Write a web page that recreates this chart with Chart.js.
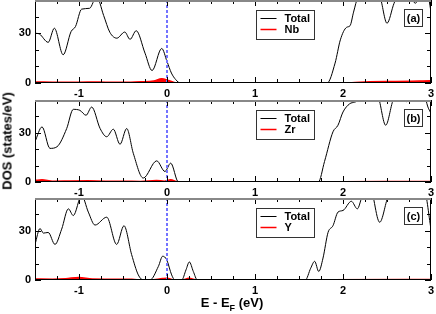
<!DOCTYPE html>
<html lang="en">

<head>
    <meta charset="UTF-8" />
    <title>DOS panels</title>
    <style>
        * {
            padding: 0;
            margin: 0;
            box-sizing: border-box;
        }

        body {
            width: 436px;
            height: 314px;
            background: #ffffff;
            font-family: "Liberation Sans", Arial, sans-serif;
        }

        .wrapper {
            position: relative;
            width: 436px;
            height: 314px;
        }

        canvas {
            position: absolute;
            left: 0;
        }

        #y-title {
            position: absolute;
            left: 7px;
            top: 141px;
            transform: translate(-50%, -50%) rotate(-90deg);
            white-space: nowrap;
            font-weight: bold;
            font-size: 13px;
            color: #000;
        }

        #x-title {
            position: absolute;
            left: 232px;
            top: 304px;
            transform: translate(-50%, -50%);
            white-space: nowrap;
            font-weight: bold;
            font-size: 13px;
            color: #000;
        }

        #x-title sub {
            font-size: 9px;
        }
    </style>
</head>

<body>
    <div class="wrapper">
        <canvas id="panel-a" width="436" height="100" style="top:0px"></canvas>
        <canvas id="panel-b" width="436" height="99" style="top:100px"></canvas>
        <canvas id="panel-c" width="436" height="99" style="top:198px"></canvas>
        <div id="y-title">DOS (states/eV)</div>
        <div id="x-title">E - E<sub>F</sub> (eV)</div>
    </div>

    <script src="https://cdn.jsdelivr.net/npm/chart.js@4"></script>
    <script>
        const xTicks = [-1, 0, 1, 2, 3];
        const yTicks = [0, 30];

        // panel (a) Nb
        const energyA = [-1.5, -1.45, -1.35, -1.28, -1.18, -1.09, -1.04, -0.97, -0.88, -0.80, -0.72, -0.65, -0.57, -0.48, -0.42, -0.35, -0.25, -0.17, -0.06, 0.0, 0.05, 0.1, 0.15, 1.82, 1.91, 1.97, 2.04, 2.08, 2.12, 2.17, 2.28, 2.42, 2.50, 2.58, 2.66, 2.76, 2.82, 2.88, 2.95, 3.0];
        const totalA = [30, 29.5, 24.5, 33, 17, 31, 34, 44.5, 45, 52, 40.7, 30.6, 27, 30.7, 26.3, 31.5, 18, 7.5, 20.8, 13, 6, 2, 0, 0, 12, 26, 33.5, 34.5, 42.7, 52, 58, 52, 36, 48, 56, 55, 48, 53, 56, 43];
        const pdosEnergyA = [-1.5, -1.3, -1.1, -0.9, -0.7, -0.5, -0.3, -0.15, -0.06, 0.02, 0.1, 0.15, 1.8, 2.1, 2.3, 2.6, 3.0];
        const pdosA = [0.6, 0.5, 0.4, 0.6, 0.5, 0.4, 0.7, 1.2, 2.6, 1.5, 0.1, 0, 0, 0.2, 0.8, 0.9, 1.3];

        // panel (b) Zr
        const energyB = [-1.5, -1.42, -1.33, -1.25, -1.14, -1.065, -0.99, -0.92, -0.856, -0.76, -0.685, -0.61, -0.534, -0.458, -0.383, -0.27, -0.117, -0.023, 0.042, 0.13, 1.72, 1.79, 1.886, 1.943, 2.0, 2.076, 2.133, 2.2, 2.3, 2.4, 2.485, 2.57, 2.65, 2.72, 2.8, 2.9, 2.97, 3.0];
        const totalB = [24.6, 33.6, 20.5, 21.5, 32.6, 44.3, 43.7, 40.7, 45.7, 32.6, 27.6, 32.2, 23, 32.6, 17.5, 2.4, 12.9, 6.4, 11.5, 0, 0, 12.5, 30.6, 34.6, 42.7, 47.7, 48.7, 50.3, 56, 52, 34.6, 50, 55, 49, 55, 56, 45, 42];
        const pdosEnergyB = [-1.5, -1.42, -1.3, -1.1, -0.9, -0.7, -0.5, -0.3, -0.12, -0.03, 0.04, 0.13, 1.72, 2.0, 2.5, 3.0];
        const pdosB = [1.0, 1.3, 0.5, 0.6, 0.7, 0.5, 0.5, 0.3, 0.9, 0.5, 1.3, 0, 0, 0.2, 0.3, 0.3];

        // panel (c) Y
        const energyC = [-1.5, -1.443, -1.405, -1.35, -1.273, -1.197, -1.121, -1.065, -0.97, -0.894, -0.818, -0.685, -0.572, -0.489, -0.402, -0.326, -0.269, -0.193, -0.098, -0.049, -0.004, 0.053, 0.09, 0.167, 0.216, 0.254, 0.299, 0.345, 1.572, 1.633, 1.678, 1.724, 1.773, 1.83, 1.886, 1.943, 2.0, 2.095, 2.163, 2.216, 2.3, 2.417, 2.511, 2.6, 2.7, 2.8, 2.92, 3.0];
        const totalC = [21.7, 31.4, 28.6, 29, 21.7, 31, 43.4, 39.3, 51.5, 41.4, 33.5, 38.3, 21.7, 33.1, 15.5, 3.1, 0, 0, 8.3, 14.5, 12.4, 3.1, 0, 0, 6.2, 11, 5.2, 0, 0, 7.2, 11.4, 5.2, 13.4, 29, 33.1, 41.4, 42.4, 48, 43.4, 50.7, 58, 35.2, 50.7, 58, 50, 58, 56, 31];
        const pdosEnergyC = [-1.5, -1.3, -1.15, -1.0, -0.85, -0.6, -0.4, -0.27, -0.19, -0.05, 0.0, 0.09, 0.17, 0.25, 0.34, 1.6, 1.85, 3.0];
        const pdosC = [0.6, 0.5, 0.8, 1.6, 0.6, 0.5, 0.4, 0, 0, 0.9, 1.1, 0, 0, 1.0, 0, 0, 0.2, 0.3];

        const labelFont = 'bold 11px "Liberation Sans", Arial, sans-serif';

        Chart.defaults.color = "#000000";
        Chart.defaults.font.family = '"Liberation Sans", Arial, sans-serif';

        // frame, inward ticks, Fermi level, legend box and panel tag
        const panelDecor = {
            id: "panelDecor",
            afterDatasetsDraw(chart, args, opts) {
                const { ctx, chartArea: a, scales: { x, y } } = chart;
                ctx.save();

                const xf = Math.round(x.getPixelForValue(0));
                ctx.strokeStyle = "#7373ff";
                ctx.lineWidth = 2;
                ctx.setLineDash([3, 2]);
                ctx.beginPath();
                ctx.moveTo(xf, a.top);
                ctx.lineTo(xf, a.bottom);
                ctx.stroke();
                ctx.setLineDash([]);

                ctx.strokeStyle = "#000000";
                ctx.lineWidth = 1;
                ctx.beginPath();
                for (let k = -6; k <= 12; k++) {
                    const px = Math.round(x.getPixelForValue(k / 4)) + 0.5;
                    const len = k % 4 === 0 ? 6 : 4;
                    ctx.moveTo(px, a.bottom);
                    ctx.lineTo(px, a.bottom - len);
                    ctx.moveTo(px, a.top);
                    ctx.lineTo(px, a.top + len);
                }
                for (let v = 0; v <= 50; v += 10) {
                    const py = Math.round(y.getPixelForValue(v)) + 0.5;
                    const len = yTicks.includes(v) ? 6 : 4;
                    ctx.moveTo(a.left, py);
                    ctx.lineTo(a.left + len, py);
                    ctx.moveTo(a.right, py);
                    ctx.lineTo(a.right - len, py);
                }
                ctx.stroke();

                ctx.strokeStyle = "#000000";
                ctx.strokeRect(Math.round(a.left) + 0.5, Math.round(a.top) + 0.5,
                    Math.round(a.right - a.left) - 1, Math.round(a.bottom - a.top) - 1);
                ctx.strokeStyle = "#888888";
                ctx.lineWidth = 2;
                ctx.beginPath();
                ctx.moveTo(a.left, a.top + 1);
                ctx.lineTo(a.right, a.top + 1);
                ctx.stroke();

                // legend
                const lx = 256.5, ly = a.top + 10.5;
                ctx.lineWidth = 1;
                ctx.strokeStyle = "#333333";
                ctx.fillStyle = "#ffffff";
                ctx.fillRect(lx, ly, 58, 29);
                ctx.strokeRect(lx, ly, 58, 29);
                ctx.font = labelFont;
                ctx.textBaseline = "middle";
                chart.data.datasets.forEach((ds, i) => {
                    const row = ly + 8 + i * 11;
                    ctx.strokeStyle = ds.borderColor;
                    ctx.lineWidth = ds.borderWidth;
                    ctx.beginPath();
                    ctx.moveTo(lx + 4, row);
                    ctx.lineTo(lx + 20, row);
                    ctx.stroke();
                    ctx.fillStyle = "#000000";
                    ctx.textAlign = "left";
                    ctx.fillText(ds.label, lx + 28, row + 0.5);
                });

                // panel tag
                const tx = 404.5, ty = a.top + 9.5;
                ctx.lineWidth = 1;
                ctx.strokeStyle = "#333333";
                ctx.strokeRect(tx, ty, 18, 17);
                ctx.fillStyle = "#000000";
                ctx.textAlign = "center";
                ctx.fillText(opts.tag, tx + 9, ty + 9);
                ctx.restore();
            }
        };

        const toPoints = (xs, ys) => xs.map((e, i) => ({ x: e, y: ys[i] }));

        function makePanel(id, energy, total, pdosEnergy, pdos, element, tag) {
            return new Chart(document.getElementById(id), {
                type: "line",
                plugins: [panelDecor],
                data: {
                    datasets: [
                        {
                            label: "Total",
                            data: toPoints(energy, total),
                            borderColor: "#000000",
                            borderWidth: 1,
                            pointRadius: 0,
                            cubicInterpolationMode: "monotone",
                            fill: false,
                            order: 1,
                        },
                        {
                            label: element,
                            data: toPoints(pdosEnergy, pdos),
                            borderColor: "#ff0000",
                            backgroundColor: "#ff0000",
                            borderWidth: 1.5,
                            pointRadius: 0,
                            cubicInterpolationMode: "monotone",
                            fill: "origin",
                            order: 0,
                        },
                    ],
                },
                options: {
                    responsive: false,
                    animation: false,
                    layout: { padding: { left: 0, right: 5, top: 0, bottom: 0 } },
                    plugins: {
                        legend: { display: false },
                        tooltip: { enabled: false },
                        panelDecor: { tag: tag },
                    },
                    scales: {
                        x: {
                            type: "linear",
                            min: -1.5,
                            max: 3,
                            grid: { display: false, drawTicks: false },
                            border: { display: false },
                            ticks: { padding: 4, font: { size: 11, weight: "bold" } },
                            afterBuildTicks: (scale) => { scale.ticks = xTicks.map((v) => ({ value: v })); },
                            afterFit: (scale) => {
                                scale.height = 17;
                                scale.paddingLeft = 0;
                                scale.paddingRight = 0;
                            },
                        },
                        y: {
                            min: 0,
                            max: 50,
                            grid: { display: false, drawTicks: false },
                            border: { display: false },
                            ticks: { padding: 4, font: { size: 11, weight: "bold" } },
                            afterBuildTicks: (scale) => { scale.ticks = yTicks.map((v) => ({ value: v })); },
                            afterFit: (scale) => {
                                scale.width = 35;
                                scale.paddingTop = 0;
                                scale.paddingBottom = 0;
                            },
                        },
                    },
                },
            });
        }

        makePanel("panel-a", energyA, totalA, pdosEnergyA, pdosA, "Nb", "(a)");
        makePanel("panel-b", energyB, totalB, pdosEnergyB, pdosB, "Zr", "(b)");
        makePanel("panel-c", energyC, totalC, pdosEnergyC, pdosC, "Y", "(c)");
    </script>
</body>

</html>
